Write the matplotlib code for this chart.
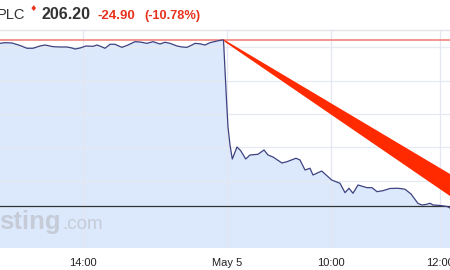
import matplotlib
matplotlib.use('Agg')
import matplotlib.pyplot as plt
from matplotlib.patches import Polygon


# header values
ticker = 'PLC'
last_price = 206.20
change = -24.90
change_pct = -10.78
prev_close = 231.10

# intraday series: position along the (compressed) session axis and price
times = [0, 5, 12, 20, 27, 33, 40, 45, 53, 60, 67, 72, 75, 80, 86, 93, 97, 101, 105, 110,
         115, 120, 122, 128, 135, 140, 147, 153, 160, 165, 170, 177, 182, 187, 192, 195, 200,
         205, 210, 217, 222, 223.5, 225, 226.5, 228, 230, 232.3, 237, 240.7, 245.7, 250, 258,
         264, 268, 273, 282, 287, 296, 300, 305, 310, 313, 321.7, 331.7, 340, 345, 349, 353,
         358, 367, 372, 377, 383, 390, 398, 405, 411, 418, 422, 426, 430, 433, 440, 447, 450]
prices = [230.60, 230.70, 230.65, 230.28, 229.86, 229.86, 230.20, 230.35, 230.10, 230.05,
          230.05, 229.90, 229.75, 229.90, 230.20, 230.15, 230.35, 230.12, 229.86, 230.46,
          230.46, 230.12, 230.00, 230.35, 230.85, 230.80, 230.60, 230.85, 230.50, 230.76,
          230.60, 230.20, 230.05, 230.00, 230.35, 230.60, 230.53, 230.35, 230.70, 230.95,
          231.10, 231.10, 226.60, 222.10, 218.05, 215.35, 213.25, 215.05, 214.50, 213.25,
          213.85, 213.96, 214.60, 213.85, 213.55, 212.65, 212.85, 213.36, 213.10, 211.60,
          211.86, 210.85, 211.45, 210.10, 209.61, 208.20, 208.86, 208.11, 209.35, 208.95,
          208.95, 208.35, 208.50, 208.83, 208.86, 208.72, 208.00, 206.58, 206.35, 206.43,
          206.61, 206.35, 206.28, 206.13, 205.90]

tick_pos = [83, 227, 331, 440]
tick_labels = ['14:00', 'May 5', '10:00', '12:00']
grid_prices = [210, 215, 220, 225, 230]

# red "drop" arrow drawn over the chart (tail, then upper/lower edge at the right border)
arrow_tail = [(223.0, 231.25), (225.0, 230.80)]
arrow_head = [(450, 211.00), (450, 207.70)]

FIG_W, FIG_H = 450, 270


def px(x, y):
    """
    Converts pixel coordinates (origin top left) to figure fractions.
    """
    return x / FIG_W, 1 - y / FIG_H


def draw_header(fig):
    """
    Draws the quote header above the chart.
    """
    fam = ['Liberation Sans', 'DejaVu Sans']
    fig.text(*px(25.5, 19), ticker, ha='right', va='baseline', fontsize=10.5,
             color='#333333', family=fam)
    fig.text(*px(33, 11), '\u2666', ha='center', va='baseline', fontsize=6,
             color='#e8321e', family='DejaVu Sans')
    fig.text(*px(42, 19), '{:.2f}'.format(last_price), ha='left', va='baseline',
             fontsize=11.5, fontweight='bold', color='#333333', family=fam)
    fig.text(*px(97, 19), '{:.2f}'.format(change), ha='left', va='baseline',
             fontsize=9.5, fontweight='bold', color='#e8321e', family=fam)
    fig.text(*px(144, 19), '({:.2f}%)'.format(change_pct), ha='left', va='baseline',
             fontsize=9.2, fontweight='bold', color='#e8321e', family=fam)


def draw_chart(ax):
    """
    Draws the intraday area chart with its reference lines and the red arrow.
    """
    ax.set_xlim(0, 450)
    ax.set_ylim(199.9, 232.6)

    # grid
    for g in grid_prices:
        ax.axhline(g, color='#e6e9f1', lw=0.9, zorder=3)
    for t in tick_pos:
        ax.axvline(t, color='#e2e7f0', lw=0.9, zorder=3)

    # area + line
    ax.fill_between(times, prices, 199.9, color='#dce8fb', lw=0, zorder=2)
    ax.plot(times, prices, color='#3e4380', lw=0.9, zorder=5)

    # previous close and current level
    ax.axhline(prev_close, color='#ef7c70', lw=1.1, zorder=4)
    ax.axhline(last_price, color='#333333', lw=0.9, zorder=4)

    # red arrow
    poly = Polygon([arrow_tail[0], arrow_head[0], arrow_head[1], arrow_tail[1]],
                   closed=True, facecolor='#ff2a00', edgecolor='none', zorder=6)
    ax.add_patch(poly)

    # watermark
    ax.text(-1, 202.8, 'sting', fontsize=18.5, fontweight='bold', color='#c5ccd7',
            family='Liberation Sans', va='baseline', zorder=3)
    ax.text(62, 202.8, '.com', fontsize=13.5, color='#c5ccd7',
            family='Liberation Sans', va='baseline', zorder=3)

    ax.set_yticks([])
    ax.set_xticks(tick_pos)
    ax.set_xticklabels(tick_labels, fontsize=8, color='#222222', family='Liberation Sans')
    ax.tick_params(axis='x', length=0, pad=7.5)
    for side in ['left', 'right', 'bottom']:
        ax.spines[side].set_visible(False)
    ax.spines['top'].set_color('#e3e5ea')
    ax.spines['top'].set_linewidth(1.0)


def main():
    fig = plt.figure(figsize=(4.5, 2.7), dpi=100)
    fig.patch.set_facecolor('white')
    ax = fig.add_axes([0, 22 / FIG_H, 1, 218 / FIG_H])
    ax.set_facecolor('white')

    draw_header(fig)
    draw_chart(ax)

    fig.savefig('out.png', dpi=100)
    plt.close(fig)


if __name__ == '__main__':
    main()
